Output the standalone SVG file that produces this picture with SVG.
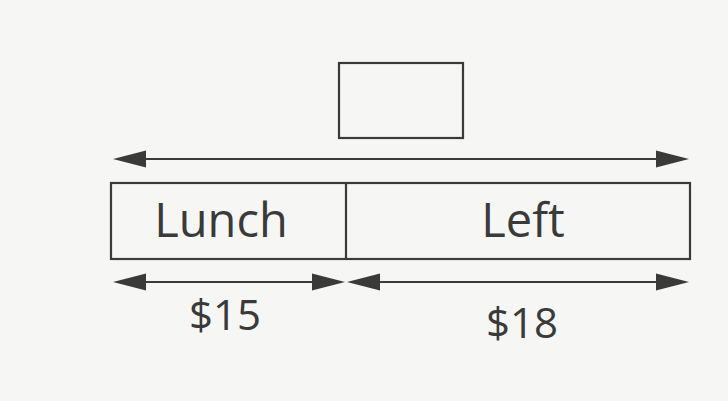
<svg xmlns="http://www.w3.org/2000/svg" width="728" height="401" viewBox="0 0 728 401">
<style>
.box{fill:none;stroke:#3a3a3a;stroke-width:2.2}
.ln{stroke:#3a3a3a;stroke-width:2.2;fill:none}
.hd{fill:#3a3a3a}
.t{font-family:"Open Sans","Noto Sans",sans-serif;fill:#3a3a3a;text-anchor:middle}
</style>
<rect width="728" height="401" fill="#f6f7f5"/>
<g id="unknown"><rect class="box" x="339" y="63" width="124" height="75"/></g>
<g id="bar">
<rect class="box" x="111" y="183" width="579" height="76"/>
<line class="ln" x1="346" y1="183" x2="346" y2="259"/>
</g>
<g id="lunch"><text class="t" x="221" y="237" font-size="47">Lunch</text></g>
<g id="left"><text class="t" x="523" y="237" font-size="47">Left</text></g>
<g id="connectors">
<line class="ln" x1="140" y1="159" x2="662" y2="159"/>
<polygon class="hd" points="113,159 146,150.5 146,167.5"/>
<polygon class="hd" points="689,159 656,150.5 656,167.5"/>
<line class="ln" x1="140" y1="282" x2="318" y2="282"/>
<polygon class="hd" points="113,282 146,273.5 146,290.5"/>
<polygon class="hd" points="345,282 312,273.5 312,290.5"/>
<line class="ln" x1="374" y1="282" x2="662" y2="282"/>
<polygon class="hd" points="347,282 380,273.5 380,290.5"/>
<polygon class="hd" points="689,282 656,273.5 656,290.5"/>
</g>
<g id="v15"><text class="t" x="225" y="330" font-size="42">$15</text></g>
<g id="v18"><text class="t" x="522" y="338" font-size="42">$18</text></g>
</svg>
